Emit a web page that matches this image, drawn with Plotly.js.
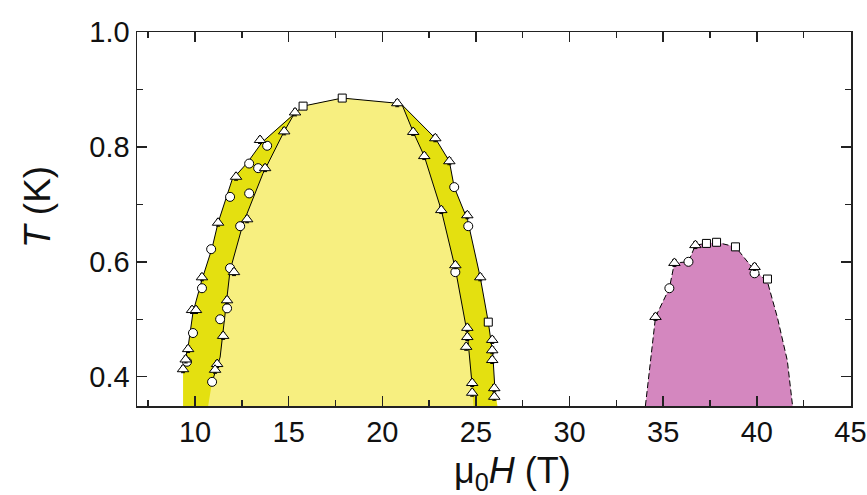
<!DOCTYPE html>
<html>
<head>
<meta charset="utf-8">
<script src="https://cdn.plot.ly/plotly-3.0.1.min.js"></script>
<style>html,body{margin:0;padding:0;background:#fff;}#chart{width:867px;height:495px;}</style>
</head>
<body>
<div id="chart"></div>
<script>
// Axis lower bound (phase regions extend down to it)
const TMIN = 0.349;

// Outer phase boundary of low-field dome (H in T, T in K), left bottom -> right bottom
const outerH = [9.36, 9.36, 9.63, 9.89, 10.37, 10.91, 11.23, 11.98, 12.78, 13.58, 15.34, 15.77, 17.86, 20.80, 21.06, 22.83, 23.58, 23.84, 24.56, 25.23, 25.66, 25.90, 26.02, 26.15];
const outerT = [TMIN, 0.413, 0.452, 0.512, 0.569, 0.624, 0.668, 0.743, 0.772, 0.808, 0.860, 0.871, 0.885, 0.876, 0.873, 0.815, 0.775, 0.730, 0.672, 0.573, 0.495, 0.440, 0.375, TMIN];

// Inner boundaries (lighter inner region)
const innerLeftH = [10.70, 10.91, 11.34, 11.87, 12.57, 13.63, 14.76, 15.34];
const innerLeftT = [TMIN, 0.391, 0.434, 0.585, 0.667, 0.754, 0.827, 0.860];
const topH = [15.77, 17.86, 20.80];
const topT = [0.871, 0.885, 0.876];
const innerRightH = [21.06, 21.65, 22.24, 23.15, 23.90, 24.54, 24.80, 24.87];
const innerRightT = [0.873, 0.826, 0.784, 0.690, 0.588, 0.475, 0.385, TMIN];

// High-field dome boundary
const domeH = [34.05, 34.59, 35.33, 35.60, 36.35, 36.72, 37.31, 37.85, 38.86, 39.88, 40.57, 41.10, 41.63, 41.91];
const domeT = [TMIN, 0.504, 0.554, 0.598, 0.600, 0.629, 0.632, 0.634, 0.626, 0.585, 0.565, 0.503, 0.428, TMIN];

// Data points
const circH = [13.85, 12.89, 11.87, 10.86, 10.37, 9.89, 9.57, 13.37, 12.89, 12.41, 11.87, 11.71, 11.34, 10.91, 23.84, 24.59, 23.90, 35.33, 36.35, 39.88];
const circT = [0.802, 0.771, 0.713, 0.622, 0.554, 0.476, 0.426, 0.763, 0.719, 0.662, 0.589, 0.519, 0.500, 0.391, 0.730, 0.662, 0.582, 0.554, 0.600, 0.580];

const triH = [13.47, 12.19, 11.23, 10.37, 9.84, 10.05, 9.63, 9.36, 9.50, 14.76, 13.74, 12.78, 12.08, 11.71, 11.50, 11.18, 11.07, 20.80, 15.34, 21.65, 22.24, 23.15, 23.90, 24.54, 24.54, 24.48, 24.80, 24.80, 22.83, 23.58, 24.54, 25.23, 25.87, 25.87, 25.87, 25.98, 25.98, 34.59, 35.60, 36.72, 39.88];
const triT = [0.812, 0.748, 0.668, 0.573, 0.516, 0.516, 0.448, 0.413, 0.430, 0.827, 0.763, 0.674, 0.582, 0.533, 0.471, 0.422, 0.412, 0.876, 0.860, 0.826, 0.784, 0.690, 0.594, 0.485, 0.469, 0.452, 0.389, 0.372, 0.815, 0.775, 0.681, 0.573, 0.464, 0.446, 0.429, 0.380, 0.365, 0.504, 0.598, 0.629, 0.591];

const sqH = [15.77, 17.86, 25.66, 37.31, 37.85, 38.86, 40.57];
const sqT = [0.871, 0.885, 0.495, 0.632, 0.634, 0.626, 0.570];

const xTicks = [10, 15, 20, 25, 30, 35, 40, 45];
const yTicks = [0.4, 0.6, 0.8, 1.0];
const yTickText = ['0.4', '0.6', '0.8', '1.0'];

const DARK = '#e4e010';
const LIGHT = '#f7ef80';
const PINK = '#d487bf';

const lightH = innerLeftH.concat(topH, innerRightH);
const lightT = innerLeftT.concat(topT, innerRightT);

const err = () => ({type: 'constant', value: 0.006, color: '#000', thickness: 1, width: 2});

const mk = (sym, sz) => ({symbol: sym, size: sz, color: '#ffffff', line: {color: '#000000', width: 1}});

const traces = [
  {x: outerH, y: outerT, mode: 'lines', fill: 'toself', fillcolor: DARK, line: {width: 0}, hoverinfo: 'skip'},
  {x: lightH, y: lightT, mode: 'lines', fill: 'toself', fillcolor: LIGHT, line: {width: 0}, hoverinfo: 'skip'},
  {x: domeH, y: domeT, mode: 'lines', fill: 'toself', fillcolor: PINK, line: {color: '#000', width: 1, dash: '6px,3px'}, hoverinfo: 'skip'},
  {x: outerH.slice(1, -1), y: outerT.slice(1, -1), mode: 'lines', line: {color: '#000', width: 1}},
  {x: innerLeftH.slice(1), y: innerLeftT.slice(1), mode: 'lines', line: {color: '#000', width: 1}},
  {x: innerRightH.slice(0, -1), y: innerRightT.slice(0, -1), mode: 'lines', line: {color: '#000', width: 1}},
  {x: circH, y: circT, mode: 'markers', marker: mk('circle', 9), error_y: err()},
  {x: triH, y: triT, mode: 'markers', marker: mk('triangle-up', 10), error_y: err()},
  {x: sqH, y: sqT, mode: 'markers', marker: mk('square', 8), error_y: err()}
];

const axisFont = {family: 'Liberation Sans, Arial, sans-serif', size: 29, color: '#111'};

const layout = {
  width: 867, height: 495,
  margin: {l: 137, r: 16, t: 32, b: 89},
  paper_bgcolor: '#fff', plot_bgcolor: '#fff',
  showlegend: false,
  xaxis: {
    range: [6.9, 45.03], tickmode: 'array', tickvals: xTicks, ticktext: xTicks.map(String),
    ticks: 'inside', ticklen: 10, tickwidth: 1.5, tickcolor: '#222',
    minor: {dtick: 2.5, tick0: 0, ticks: 'inside', ticklen: 6, tickwidth: 1.5, tickcolor: '#222'},
    showline: true, linecolor: '#222', linewidth: 1.5, mirror: 'allticks',
    showgrid: false, zeroline: false, tickfont: axisFont, ticklabelstandoff: 0,
    ticklabeloverflow: 'allow'
  },
  yaxis: {
    range: [TMIN, 1.0], tickmode: 'array', tickvals: yTicks, ticktext: yTickText,
    ticks: 'inside', ticklen: 10, tickwidth: 1.5, tickcolor: '#222',
    minor: {dtick: 0.1, tick0: 0, ticks: 'inside', ticklen: 6, tickwidth: 1.5, tickcolor: '#222'},
    showline: true, linecolor: '#222', linewidth: 1.5, mirror: 'allticks',
    showgrid: false, zeroline: false, tickfont: axisFont
  },
  annotations: [
    {text: '\u03bc<sub>0</sub><i>H</i> (T)', xref: 'paper', yref: 'paper', x: 0.526, y: -0.178,
     xanchor: 'center', yanchor: 'middle', showarrow: false,
     font: {family: 'Liberation Sans, Arial, sans-serif', size: 36, color: '#111'}},
    {text: '<i>T</i> (K)', xref: 'paper', yref: 'paper', x: -0.140, y: 0.532, textangle: -90,
     xanchor: 'center', yanchor: 'middle', showarrow: false,
     font: {family: 'Liberation Sans, Arial, sans-serif', size: 37, color: '#111'}}
  ]
};

Plotly.newPlot('chart', traces, layout, {displayModeBar: false, staticPlot: true});
</script>
</body>
</html>
